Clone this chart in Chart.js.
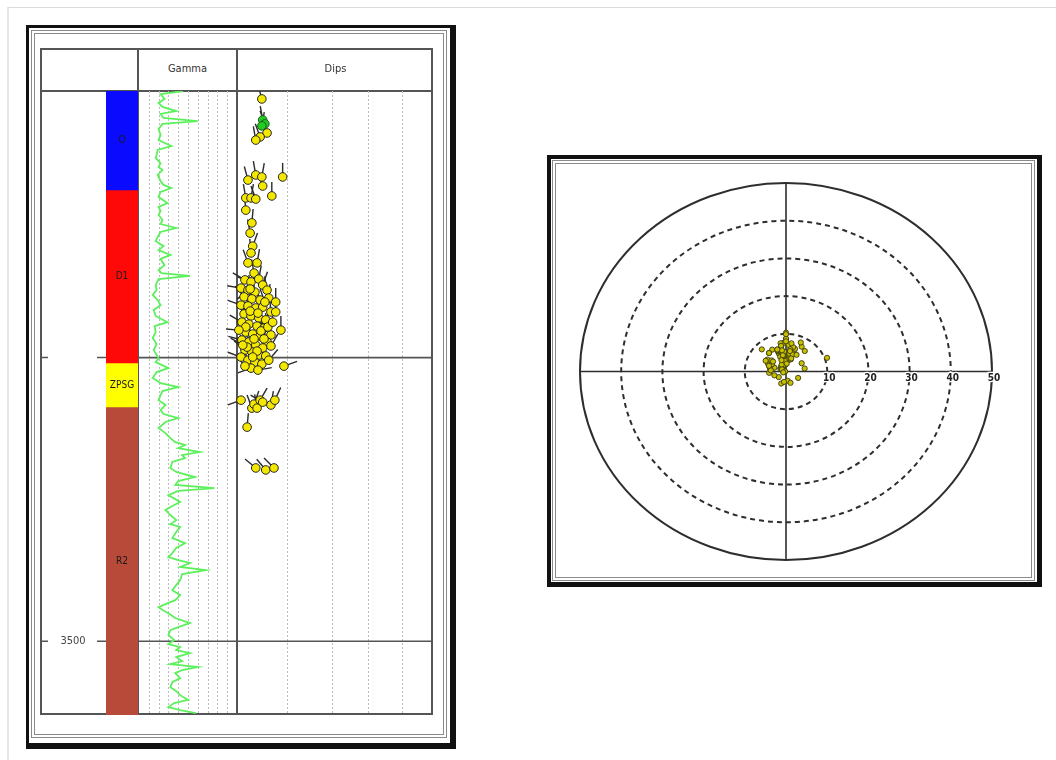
<!DOCTYPE html>
<html>
<head>
<meta charset="utf-8">
<title>Well log and dip stereonet</title>
<script src="https://cdn.jsdelivr.net/npm/chart.js@4.4.1/dist/chart.umd.min.js"></script>
<style>
  html, body { margin: 0; padding: 0; background: #fff; }
  #page { position: relative; width: 1056px; height: 760px; overflow: hidden; background: #fff; filter: blur(0.4px); }
  .abs { position: absolute; box-sizing: border-box; }
  .line { position: absolute; background: #555; z-index: 1; }
  canvas { position: absolute; z-index: 2; }
  .hdr { position: absolute; z-index: 3; font-family: "DejaVu Sans Condensed", "Liberation Sans Narrow", "DejaVu Sans", sans-serif; font-size: 11px; font-stretch: condensed; color: #333; text-align: center; }
</style>
</head>
<body>
<div id="page">
  <!-- page edge -->
  <div class="abs" style="left:7px;top:7px;width:1049px;height:753px;border-top:1px solid #dcdcdc;border-left:2px solid #e6e6e6;"></div>

  <!-- log panel frame -->
  <div class="abs" style="left:26px;top:25px;width:430px;height:724px;border-style:solid;border-color:#111;border-width:3px 6px 6px 3px;"></div>
  <div class="abs" style="left:31px;top:30px;width:416px;height:708px;border:4px double #8a8a8a;"></div>
  <div class="abs" style="left:40px;top:48px;width:393px;height:667px;border:2px solid #555;z-index:1;"></div>
  <div class="line" style="left:40px;top:90px;width:393px;height:2px;"></div>
  <div class="line" style="left:137px;top:48px;width:2px;height:667px;"></div>
  <div class="line" style="left:236px;top:48px;width:2px;height:667px;"></div>
  <div class="hdr" style="left:139px;top:62px;width:97px;">Gamma</div>
  <div class="hdr" style="left:238px;top:62px;width:195px;">Dips</div>

  <canvas id="zoneChart" width="98" height="624" style="left:40px;top:91px;"></canvas>
  <canvas id="gammaChart" width="98" height="624" style="left:139px;top:91px;"></canvas>
  <canvas id="dipChart" width="207" height="624" style="left:226px;top:91px;"></canvas>

  <!-- stereonet frame -->
  <div class="abs" style="left:547px;top:155px;width:495px;height:432px;border-style:solid;border-color:#111;border-width:4px 5px 5px 4px;"></div>
  <div class="abs" style="left:552px;top:160px;width:483px;height:421px;border:4px double #8a8a8a;"></div>
  <canvas id="stereoChart" width="476" height="414" style="left:556px;top:164px;"></canvas>
</div>

<script>
// ---- depth interval (m) ----
const depthTop = 3306;
const depthBase = 3526;
const depthTicks = [3400, 3500];
const depthTickLabels = ['', '3500'];

// ---- formation zones ----
const zoneNames = ['O', 'D1', 'ZPSG', 'R2'];
const zoneTop   = [3306.0, 3340.9, 3401.9, 3417.4];
const zoneBase  = [3340.9, 3401.9, 3417.4, 3526.0];
const zoneColors = ['#0a0aff', '#ff0808', '#ffff00', '#b84a3a'];

// ---- gamma ray curve (API) ----
const gammaDepth = [
  3306.0,3307.1,3308.8,3310.2,3311.6,3313.1,3314.1,3315.5,3316.6,3317.6,
  3319.4,3321.5,3323.3,3325.4,3326.8,3328.6,3329.6,3331.4,3332.8,3333.9,
  3335.6,3337.7,3339.1,3340.2,3341.6,3343.4,3345.5,3346.9,3348.3,3349.7,
  3351.5,3352.9,3354.3,3355.7,3357.5,3358.9,3360.7,3362.1,3363.8,3365.2,
  3367.4,3369.1,3370.2,3371.2,3372.3,3374.4,3376.2,3377.9,3379.7,3381.5,
  3383.2,3385.3,3387.5,3388.9,3391.0,3393.1,3395.2,3397.3,3400.2,3401.6,
  3403.7,3405.1,3407.2,3409.0,3410.4,3411.8,3413.2,3415.0,3416.7,3418.5,
  3419.9,3421.3,3422.7,3424.8,3426.6,3428.4,3429.8,3430.8,3431.9,3433.3,
  3434.4,3435.4,3436.8,3438.9,3440.3,3442.1,3443.5,3444.9,3446.0,3447.0,
  3448.5,3449.9,3450.9,3452.3,3453.7,3455.5,3457.3,3458.7,3459.7,3461.5,
  3463.6,3465.4,3467.1,3468.9,3470.3,3471.4,3472.4,3473.8,3474.9,3476.3,
  3478.4,3480.2,3482.0,3483.7,3485.5,3486.9,3488.0,3489.0,3490.1,3491.8,
  3493.6,3495.0,3496.1,3497.8,3499.6,3501.0,3502.1,3503.1,3504.2,3505.6,
  3507.0,3508.1,3509.1,3510.2,3511.2,3513.0,3514.4,3516.2,3517.6,3519.0,
  3520.7,3521.8,3523.2,3524.3,3525.3
];
const gammaValue = [
  45,22,26,20,24,38,22,25,60,24,
  20,22,20,33,19,18,17,22,20,24,
  19,22,25,33,22,20,29,20,22,20,
  24,22,38,22,19,17,25,20,32,22,
  26,20,23,52,20,17,18,14,19,22,
  15,17,29,16,17,14,18,15,20,17,
  30,18,14,22,40,24,22,20,27,22,
  25,40,27,20,27,32,37,47,40,62,
  44,47,34,32,38,57,40,37,77,40,
  30,37,42,34,27,32,38,32,42,38,
  34,47,38,34,30,40,52,42,68,44,
  42,38,34,42,37,27,20,24,30,37,
  52,40,32,30,36,30,42,38,52,38,
  44,32,60,44,37,42,34,32,38,42,
  50,36,30,42,58
];
const gammaMin = 0;
const gammaMax = 100;
const gammaGrid = [10, 20, 30, 40, 50, 60, 70, 80, 90];

// ---- dip picks: depth (m), dip (deg), dip azimuth (deg) ----
const dipDepth = [
  3308.8,3320.8,3322.2,3323.3,3336.3,3343.0,3335.6,3336.3,3339.5,3337.4,
  3343.7,3343.7,3344.1,3348.0,3352.5,3356.1,3360.7,3363.1,3366.6,3366.6,3370.2,
  3372.6,3373.3,3372.3,3374.4,3375.5,3376.2,3376.9,3376.2,3378.6,3379.3,
  3379.7,3379.0,3380.4,3381.5,3381.8,3382.5,3382.2,3383.9,3383.9,3384.6,
  3385.3,3386.0,3386.7,3387.5,3388.2,3388.9,3389.6,3392.0,3390.3,3391.0,
  3391.7,3392.4,3394.5,3393.8,3394.5,3395.6,3396.6,3395.9,3397.3,3398.0,
  3399.1,3399.4,3399.8,3400.9,3401.6,3402.3,3400.9,3403.7,3404.4,3403.0,
  3383.6,3384.3,3389.2,3390.6,3393.4,3396.3,3393.4,3397.7,3399.8,3395.6,
  3389.2,3387.5,3390.3,3380.4,3375.8,3403.0,
  3415.0,3417.8,3416.4,3417.8,3415.0,3416.7,3415.0,3415.7,3424.5,
  3438.9,3439.6,3438.9
];
const dipAngle = [
  5.5,6.7,5.1,4.1,10.3,7.8,4.1,5.5,5.7,2.3,
  1.8,3.0,4.1,1.8,3.2,2.8,3.4,3.0,2.3,4.4,3.7,
  1.6,3.0,4.8,5.7,0.7,2.3,3.9,6.7,1.4,3.2,
  5.1,7.1,8.7,0.7,2.3,4.1,5.7,7.6,8.7,1.4,
  3.0,4.8,6.4,0.9,2.5,4.4,6.0,7.6,9.9,1.8,
  3.4,5.1,6.7,0.9,2.5,4.1,5.7,7.6,1.6,3.2,
  4.8,6.4,0.7,2.3,3.9,5.5,7.1,3.0,4.6,1.6,
  2.8,4.6,1.8,5.3,3.7,2.1,6.0,4.4,3.4,1.1,
  6.9,8.0,0.2,6.2,2.8,10.6,
  0.7,3.2,3.7,4.4,5.1,7.6,8.5,5.7,2.1,
  4.1,6.4,8.3
];
const dipAzimuth = [
  345,330,340,350,0,0,350,10,340,345,
  350,10,340,355,5,350,20,355,340,10,350,
  300,290,10,20,280,230,280,350,320,10,
  300,5,0,290,350,265,340,355,0,330,
  0,295,20,300,170,60,340,350,0,320,
  200,350,15,285,350,285,10,30,310,160,
  20,320,290,340,300,305,40,250,80,320,
  190,310,340,355,275,330,10,290,120,300,
  350,0,275,340,355,70,
  250,340,20,350,30,10,25,300,5,
  310,320,315
];
// picks flagged green near the top of the interval
const greenDepth = [3316.2, 3317.6, 3318.3];
const greenAngle = [5.7, 6.2, 5.5];
const greenAzimuth = [350, 340, 10];

const dipMin = 0;
const dipMax = 45;
const dipGrid = [11.3, 21.7, 30, 37.8];

// ---- stereonet rings (deg) ----
const ringValues = [10, 20, 30, 40];
const ringMax = 50;
const ringLabels = ['10', '20', '30', '40', '50'];

const labelFont = '"DejaVu Sans Condensed", "Liberation Sans Narrow", "DejaVu Sans", sans-serif';
const TAIL = 14;

function depthAxis() {
  return { type: 'linear', display: false, reverse: true, min: depthTop, max: depthBase };
}

// ---------- zone column with depth marks ----------
const zoneLabelPlugin = {
  id: 'zoneLabels',
  afterDatasetsDraw(chart) {
    const ctx = chart.ctx;
    ctx.save();
    ctx.font = '10px ' + labelFont;
    ctx.fillStyle = '#1a1a1a';
    ctx.textAlign = 'center';
    ctx.textBaseline = 'middle';
    chart.data.datasets.forEach((ds, i) => {
      const el = chart.getDatasetMeta(i).data[0];
      ctx.fillText(ds.label, el.x, (el.y + el.base) / 2);
    });
    // depth marks on the left
    const y = chart.scales.y;
    ctx.strokeStyle = '#555';
    ctx.lineWidth = 1.5;
    ctx.font = '11px ' + labelFont;
    ctx.fillStyle = '#444';
    depthTicks.forEach((d, i) => {
      const py = y.getPixelForValue(d);
      ctx.beginPath();
      ctx.moveTo(2, py); ctx.lineTo(8, py);
      ctx.moveTo(57, py); ctx.lineTo(66, py);
      ctx.stroke();
      if (depthTickLabels[i]) ctx.fillText(depthTickLabels[i], 33, py);
    });
    ctx.restore();
  }
};

new Chart(document.getElementById('zoneChart'), {
  type: 'bar',
  data: {
    labels: ['Zone'],
    datasets: zoneNames.map((name, i) => ({
      label: name,
      data: [[zoneTop[i], zoneBase[i]]],
      backgroundColor: zoneColors[i],
      borderWidth: 0
    }))
  },
  options: {
    responsive: false,
    animation: false,
    layout: { autoPadding: false, padding: { left: 66, right: 0, top: 0, bottom: 0 } },
    datasets: { bar: { grouped: false, barPercentage: 1, categoryPercentage: 1 } },
    plugins: { legend: { display: false }, tooltip: { enabled: false } },
    scales: { x: { display: false }, y: depthAxis() }
  },
  plugins: [zoneLabelPlugin]
});

// ---------- shared track grid ----------
function trackGrid(xGrid) {
  return {
    id: 'trackGrid',
    beforeDatasetsDraw(chart) {
      const { ctx, chartArea: a, scales } = chart;
      ctx.save();
      ctx.strokeStyle = '#bdbdbd';
      ctx.lineWidth = 1;
      ctx.setLineDash([2, 2]);
      xGrid.forEach(v => {
        const px = Math.round(scales.x.getPixelForValue(v)) + 0.5;
        ctx.beginPath(); ctx.moveTo(px, a.top); ctx.lineTo(px, a.bottom); ctx.stroke();
      });
      ctx.setLineDash([]);
      ctx.strokeStyle = '#555';
      ctx.lineWidth = 1.6;
      depthTicks.forEach(d => {
        const py = scales.y.getPixelForValue(d);
        ctx.beginPath(); ctx.moveTo(a.left, py); ctx.lineTo(a.right, py); ctx.stroke();
      });
      ctx.restore();
    }
  };
}

// ---------- gamma track ----------
new Chart(document.getElementById('gammaChart'), {
  type: 'scatter',
  data: {
    datasets: [{
      label: 'Gamma',
      data: gammaDepth.map((d, i) => ({ x: gammaValue[i], y: d })),
      showLine: true,
      borderColor: '#5cf05c',
      borderWidth: 1.8,
      pointRadius: 0,
      tension: 0
    }]
  },
  options: {
    responsive: false,
    animation: false,
    layout: { autoPadding: false, padding: 0 },
    plugins: { legend: { display: false }, tooltip: { enabled: false } },
    scales: {
      x: { type: 'linear', display: false, min: gammaMin, max: gammaMax },
      y: depthAxis()
    }
  },
  plugins: [trackGrid(gammaGrid)]
});

// ---------- dip track (tadpoles) ----------
const tadpoleTails = {
  id: 'tadpoleTails',
  beforeDatasetsDraw(chart) {
    const ctx = chart.ctx;
    ctx.save();
    ctx.strokeStyle = '#2b2b2b';
    ctx.lineWidth = 1.4;
    chart.data.datasets.forEach((ds, i) => {
      chart.getDatasetMeta(i).data.forEach((pt, j) => {
        const a = ds.azimuth[j] * Math.PI / 180;
        ctx.beginPath();
        ctx.moveTo(pt.x, pt.y);
        ctx.lineTo(pt.x + TAIL * Math.sin(a), pt.y - TAIL * Math.cos(a));
        ctx.stroke();
      });
    });
    ctx.restore();
  }
};

new Chart(document.getElementById('dipChart'), {
  type: 'scatter',
  data: {
    datasets: [
      {
        label: 'Dips',
        data: dipDepth.map((d, i) => ({ x: dipAngle[i], y: d })),
        azimuth: dipAzimuth,
        pointRadius: 4.3,
        pointBackgroundColor: '#f4e800',
        pointBorderColor: '#222',
        pointBorderWidth: 1,
        clip: false
      },
      {
        label: 'Dips (flagged)',
        data: greenDepth.map((d, i) => ({ x: greenAngle[i], y: d })),
        azimuth: greenAzimuth,
        pointRadius: 4.3,
        pointBackgroundColor: '#22cc22',
        pointBorderColor: '#1a5a1a',
        pointBorderWidth: 1,
        clip: false
      }
    ]
  },
  options: {
    responsive: false,
    animation: false,
    layout: { autoPadding: false, padding: { left: 12, right: 0, top: 0, bottom: 0 } },
    plugins: { legend: { display: false }, tooltip: { enabled: false } },
    scales: {
      x: { type: 'linear', display: false, min: dipMin, max: dipMax },
      y: depthAxis()
    }
  },
  plugins: [trackGrid(dipGrid), tadpoleTails]
});

// ---------- stereonet ----------
const toRad = deg => deg * Math.PI / 180;
const stereoPoints = dipAngle.map((d, i) => ({ x: d * Math.sin(toRad(dipAzimuth[i])), y: d * Math.cos(toRad(dipAzimuth[i])) }))
  .concat(greenAngle.map((d, i) => ({ x: d * Math.sin(toRad(greenAzimuth[i])), y: d * Math.cos(toRad(greenAzimuth[i])) })));

const stereoNet = {
  id: 'stereoNet',
  beforeDatasetsDraw(chart) {
    const { ctx, scales: { x, y } } = chart;
    const cx = x.getPixelForValue(0), cy = y.getPixelForValue(0);
    ctx.save();
    ctx.strokeStyle = '#2e2e2e';
    ctx.lineWidth = 2;
    ctx.setLineDash([5, 4]);
    ringValues.forEach(r => {
      ctx.beginPath();
      ctx.ellipse(cx, cy, Math.abs(x.getPixelForValue(r) - cx), Math.abs(y.getPixelForValue(r) - cy), 0, 0, Math.PI * 2);
      ctx.stroke();
    });
    ctx.setLineDash([]);
    ctx.beginPath();
    ctx.ellipse(cx, cy, Math.abs(x.getPixelForValue(ringMax) - cx), Math.abs(y.getPixelForValue(ringMax) - cy), 0, 0, Math.PI * 2);
    ctx.stroke();
    ctx.lineWidth = 1.6;
    ctx.beginPath();
    ctx.moveTo(x.getPixelForValue(-ringMax), cy); ctx.lineTo(x.getPixelForValue(ringMax), cy);
    ctx.moveTo(cx, y.getPixelForValue(ringMax)); ctx.lineTo(cx, y.getPixelForValue(-ringMax));
    ctx.stroke();
    ctx.restore();
  },
  afterDatasetsDraw(chart) {
    const { ctx, scales: { x, y } } = chart;
    const cy = y.getPixelForValue(0);
    ctx.save();
    ctx.font = 'bold 10px ' + labelFont;
    ctx.textAlign = 'center';
    ctx.textBaseline = 'middle';
    ringValues.concat([ringMax]).forEach((r, i) => {
      const px = x.getPixelForValue(r) + 2;
      ctx.lineWidth = 2.5;
      ctx.strokeStyle = '#fff';
      ctx.strokeText(ringLabels[i], px, cy + 7);
      ctx.fillStyle = '#222';
      ctx.fillText(ringLabels[i], px, cy + 7);
    });
    ctx.restore();
  }
};

new Chart(document.getElementById('stereoChart'), {
  type: 'scatter',
  data: {
    datasets: [{
      label: 'Poles',
      data: stereoPoints,
      pointRadius: 2.6,
      pointBackgroundColor: '#c9c000',
      pointBorderColor: '#3a3a10',
      pointBorderWidth: 0.9,
      clip: false
    }]
  },
  options: {
    responsive: false,
    animation: false,
    layout: { autoPadding: false, padding: { left: 24, right: 40, top: 19, bottom: 18 } },
    plugins: { legend: { display: false }, tooltip: { enabled: false } },
    scales: {
      x: { type: 'linear', display: false, min: -ringMax, max: ringMax },
      y: { type: 'linear', display: false, min: -ringMax, max: ringMax }
    }
  },
  plugins: [stereoNet]
});
</script>
</body>
</html>
